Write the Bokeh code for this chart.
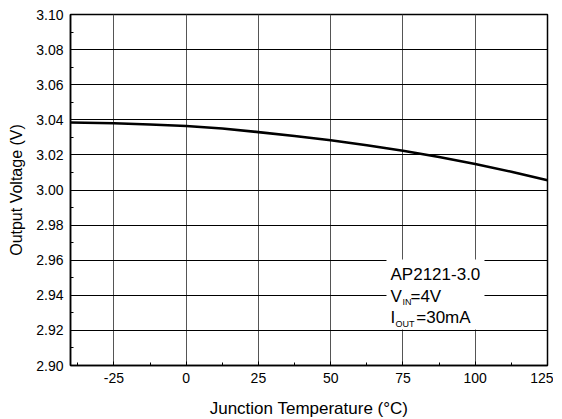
from bokeh.plotting import figure
from bokeh.models import FixedTicker, NumeralTickFormatter, BoxAnnotation, Label, Range1d
from bokeh.embed import file_html
from bokeh.resources import INLINE

# data
temperature = [-40, -25, -12.5, 0, 12.5, 25, 37.5, 50, 62.5, 75, 87.5, 100, 112.5, 125]
voltage = [3.0385, 3.0380, 3.0373, 3.0365, 3.0350, 3.0330, 3.0308, 3.0283, 3.0255, 3.0224, 3.0188, 3.0148, 3.0104, 3.0056]
x_ticks = [-25, 0, 25, 50, 75, 100, 125]
x_minor = [-37.5, -12.5, 12.5, 37.5, 62.5, 87.5, 112.5]
y_ticks = [2.90, 2.92, 2.94, 2.96, 2.98, 3.00, 3.02, 3.04, 3.06, 3.08, 3.10]
y_minor = [2.91, 2.93, 2.95, 2.97, 2.99, 3.01, 3.03, 3.05, 3.07, 3.09]

FONT = "Liberation Sans"

p = figure(frame_width=477, frame_height=351, output_backend="svg", toolbar_location=None,
           x_range=Range1d(-40, 125), y_range=Range1d(2.90, 3.10),
           min_border_left=70, min_border_right=6, min_border_top=14, min_border_bottom=45)
p.background_fill_color = "white"
p.outline_line_color = "black"
p.outline_line_width = 1.5

p.xaxis.ticker = FixedTicker(ticks=x_ticks, minor_ticks=x_minor)
p.yaxis.ticker = FixedTicker(ticks=y_ticks, minor_ticks=y_minor)
p.yaxis.formatter = NumeralTickFormatter(format="0.00")
p.xaxis.formatter = NumeralTickFormatter(format="0")

for ax in (p.xaxis, p.yaxis):
    ax.axis_line_color = "black"
    ax.axis_line_width = 1.5
    ax.major_tick_in = 4
    ax.major_tick_out = 0
    ax.minor_tick_in = 3
    ax.minor_tick_out = 0
    ax.major_tick_line_color = "black"
    ax.minor_tick_line_color = "black"
    ax.major_label_text_font = FONT
    ax.major_label_text_font_size = "14px"
    ax.major_label_text_color = "black"
    ax.axis_label_text_font = FONT
    ax.axis_label_text_font_style = "normal"
    ax.axis_label_text_color = "black"

p.xaxis.axis_label_text_font_size = "17px"
p.yaxis.axis_label_text_font_size = "16px"
p.xaxis.axis_label = "Junction Temperature (°C)"
p.yaxis.axis_label = "Output Voltage (V)"
p.xaxis.major_label_standoff = 7
p.yaxis.major_label_standoff = 7
p.xaxis.axis_label_standoff = 13
p.yaxis.axis_label_standoff = 8

p.xgrid.grid_line_color = "#555555"
p.xgrid.grid_line_width = 1
p.ygrid.grid_line_color = "black"
p.ygrid.grid_line_width = 1

p.line(temperature, voltage, line_color="black", line_width=2.6)

# annotation box
p.add_layout(BoxAnnotation(left=69.3, right=103.2, bottom=2.9205, top=2.9604,
                           fill_color="white", fill_alpha=1.0, line_alpha=0, level="overlay"))

def lab(x, y, t, size):
    p.add_layout(Label(x=x, y=y, text=t, text_font=FONT, text_font_size=size,
                       text_color="black", text_baseline="alphabetic", text_align="left",
                       level="overlay"))

lab(70.7, 2.9518, "AP2121-3.0", "17px")
lab(70.7, 2.9394, "V", "17px")
lab(74.8, 2.9360, "IN", "9px")
lab(77.6, 2.9394, "=4V", "17px")
lab(70.7, 2.9271, "I", "17px")
lab(72.4, 2.9237, "OUT", "9px")
lab(79.6, 2.9271, "=30mA", "17px")

open("out.html", "w").write(file_html(p, INLINE))
